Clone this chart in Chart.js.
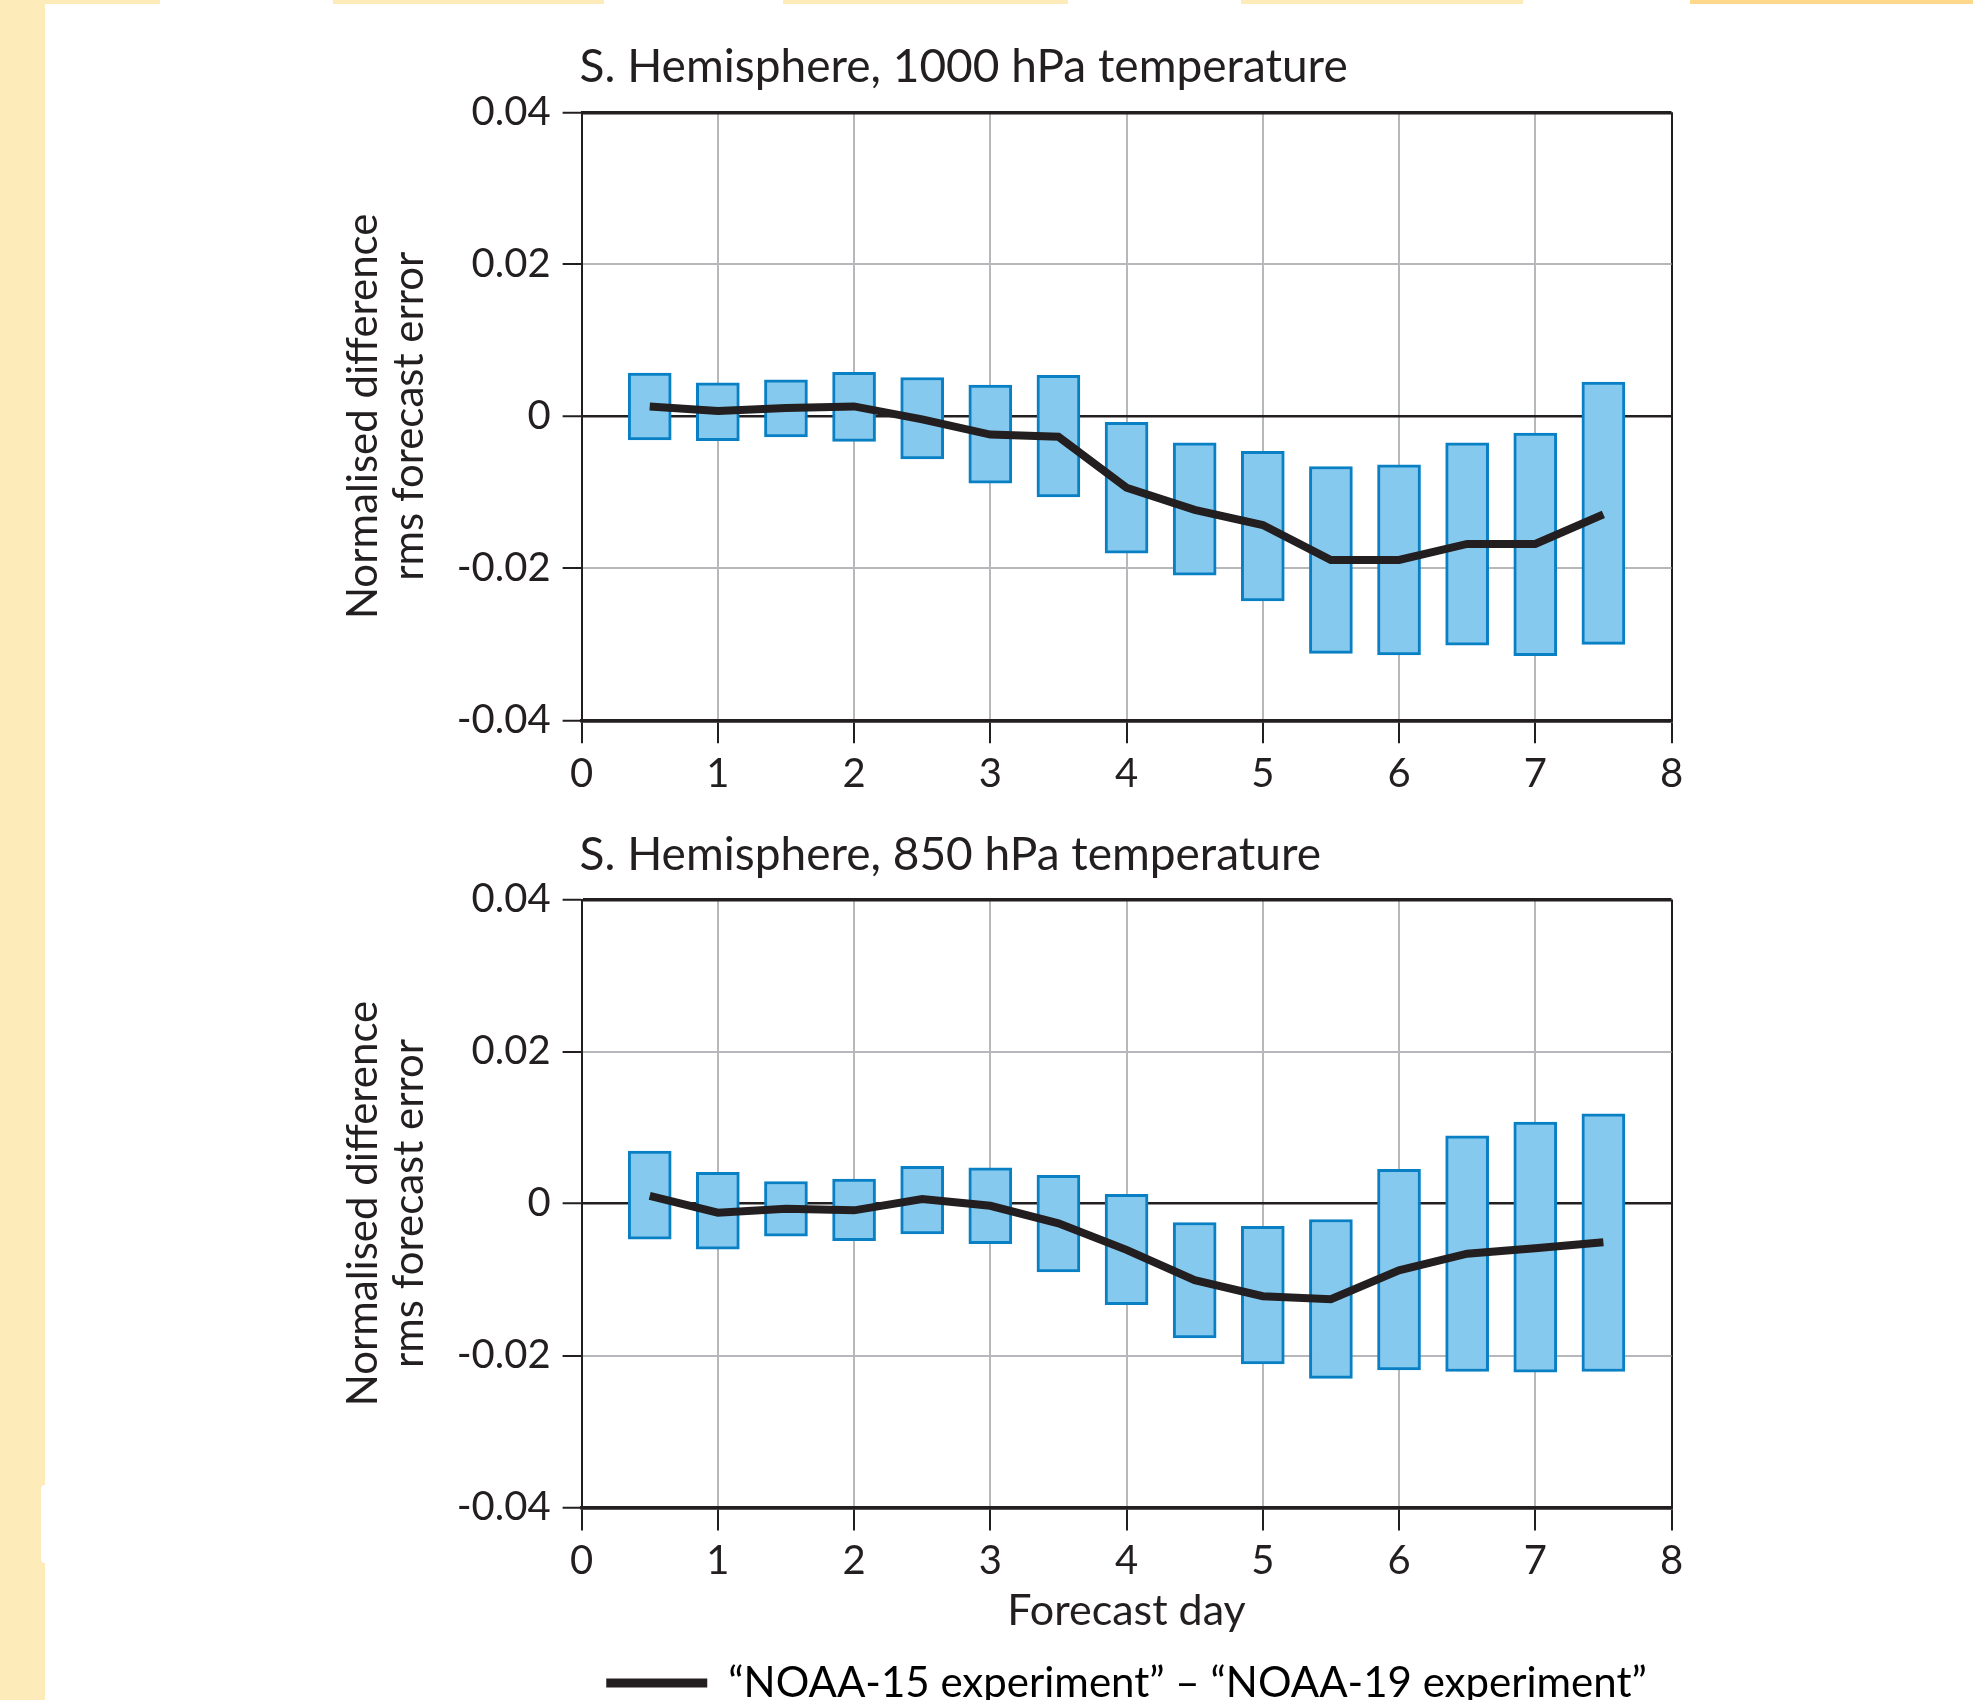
<!DOCTYPE html>
<html>
<head>
<meta charset="utf-8">
<title>S. Hemisphere forecast error difference</title>
<script src="https://cdn.jsdelivr.net/npm/chart.js@4.4.1/dist/chart.umd.min.js"></script>
<style>
html,body{margin:0;padding:0;background:#fff;width:1978px;height:1700px;overflow:hidden;}
.band{position:absolute;background:#fdebb9;}
canvas{position:absolute;left:0;}
</style>
</head>
<body>
<!-- page frame bits around the figure -->
<div class="band" style="left:0;top:0;width:45px;height:1700px"></div>
<div class="band" style="left:0;top:0;width:160px;height:4px"></div>
<div class="band" style="left:333px;top:0;width:271px;height:4px"></div>
<div class="band" style="left:783px;top:0;width:285px;height:4px"></div>
<div class="band" style="left:1241px;top:0;width:282px;height:4px"></div>
<div class="band" style="left:1690px;top:0;width:283px;height:4px;background:#fed98b"></div>
<div style="position:absolute;left:41px;top:1485px;width:6px;height:78px;background:#fff;border-radius:4px 0 0 4px"></div>

<canvas id="chartTop" width="1978" height="800" style="top:0"></canvas>
<canvas id="chartBottom" width="1978" height="930" style="top:800px"></canvas>

<script>
// forecast day of each box / point
const forecastDays = [0.5,1,1.5,2,2.5,3,3.5,4,4.5,5,5.5,6,6.5,7,7.5];

// 1000 hPa: box bottom, box top, mean difference
const t1000Low  = [-0.0031,-0.0032,-0.0027,-0.0033,-0.0056,-0.0088,-0.0106,-0.0180,-0.0209,-0.0243,-0.0312,-0.0314,-0.0301,-0.0315,-0.0300];
const t1000High = [0.0057,0.0044,0.0048,0.0058,0.0051,0.0041,0.0054,-0.0008,-0.0035,-0.0046,-0.0066,-0.0064,-0.0035,-0.0022,0.0045];
const t1000Diff = [0.0013,0.0007,0.0011,0.0013,-0.0004,-0.0024,-0.0027,-0.0094,-0.0123,-0.0143,-0.0189,-0.0189,-0.0168,-0.0168,-0.0129];

// 850 hPa
const t850Low  = [-0.0047,-0.0060,-0.0043,-0.0049,-0.0040,-0.0053,-0.0090,-0.0133,-0.0177,-0.0211,-0.0230,-0.0219,-0.0221,-0.0222,-0.0221];
const t850High = [0.0069,0.0041,0.0029,0.0032,0.0049,0.0047,0.0037,0.0012,-0.0025,-0.0030,-0.0021,0.0045,0.0089,0.0107,0.0118];
const t850Diff = [0.0010,-0.0012,-0.0007,-0.0009,0.0006,-0.0003,-0.0026,-0.0061,-0.0101,-0.0122,-0.0126,-0.0088,-0.0066,-0.0059,-0.0051];

// axes and texts
const xTickValues = [0,1,2,3,4,5,6,7,8];
const yTickValues = [-0.04,-0.02,0,0.02,0.04];
const yTickLabels = ['-0.04','-0.02','0','0.02','0.04'];
const panelTitles = ['S. Hemisphere, 1000 hPa temperature','S. Hemisphere, 850 hPa temperature'];
const yAxisTitle = ['Normalised difference','rms forecast error'];
const xAxisTitle = 'Forecast day';
const seriesLabel = '\u201CNOAA-15 experiment\u201D \u2013 \u201CNOAA-19 experiment\u201D';

const INK = '#231f20';
const GRID = '#b7b8bb';
const FONT = 'Lato, "Open Sans", sans-serif';

// draws the panel heading just above the plot box
const panelTitlePlugin = {
  id: 'panelTitle',
  afterDraw(chart, args, opts){
    const {ctx, chartArea} = chart;
    ctx.save();
    ctx.font = '46px ' + FONT;
    ctx.fillStyle = INK;
    ctx.textAlign = 'left';
    ctx.textBaseline = 'alphabetic';
    ctx.fillText(opts.text, chartArea.left - 2, chartArea.top - 30);
    ctx.restore();
  }
};

function makeChart(canvasId, title, low, high, diff, isLast){
  const ctx = document.getElementById(canvasId).getContext('2d');
  const canvasH = ctx.canvas.height;

  return new Chart(ctx, {
    type: 'bar',
    data: {
      datasets: [
        {
          type: 'bar',
          label: 'range',
          data: forecastDays.map((d,i)=>({x:d, y:[low[i], high[i]]})),
          backgroundColor: '#86c9ee',
          borderColor: '#0a80c4',
          borderWidth: 3,
          borderSkipped: false,
          barThickness: 43,
          order: 2
        },
        {
          type: 'line',
          label: seriesLabel,
          data: forecastDays.map((d,i)=>({x:d, y:diff[i]})),
          borderColor: INK,
          borderWidth: 8,
          pointRadius: 0,
          tension: 0,
          fill: false,
          order: 1
        }
      ]
    },
    options: {
      responsive: false,
      animation: false,
      events: [],
      layout: {padding: {left: 340, right: 306.5, top: isLast ? 99.5 : 112.3, bottom: isLast ? 16 : 0}},
      scales: {
        x: {
          type: 'linear',
          min: 0, max: 8,
          offset: false,
          afterBuildTicks: s => { s.ticks = xTickValues.map(v=>({value:v})); },
          afterFit: s => { s.height = isLast ? 126.5 : (canvasH - 720.3); },
          ticks: {color: INK, font: {family: FONT, size: 40, lineHeight: 1.2}, padding: 7, maxRotation: 0,
                  callback: v => String(v)},
          grid: {
            offset: false,
            color: c => (c.tick && (c.tick.value === 0 || c.tick.value === 8)) ? INK : GRID,
            lineWidth: 2,
            tickColor: INK,
            tickLength: 23,
            tickWidth: 2
          },
          border: {display: true, color: INK, width: 3.5},
          title: {display: isLast, text: xAxisTitle, color: INK, font: {family: FONT, size: 43, lineHeight: 1.07}, padding: 0}
        },
        y: {
          type: 'linear',
          min: -0.04, max: 0.04,
          afterBuildTicks: s => { s.ticks = yTickValues.map(v=>({value:v})); },
          afterFit: s => { s.width = 581.6 - 340; },
          ticks: {color: INK, font: {family: FONT, size: 40}, padding: 12,
                  callback: (v, i) => yTickLabels[i]},
          grid: {
            color: c => {
              const v = c.tick ? c.tick.value : 0;
              return (Math.abs(v) < 1e-9 || Math.abs(Math.abs(v) - 0.04) < 1e-9) ? INK : GRID;
            },
            lineWidth: c => {
              const v = c.tick ? c.tick.value : 0;
              if (Math.abs(Math.abs(v) - 0.04) < 1e-9) return 3.5;
              return Math.abs(v) < 1e-9 ? 2.5 : 2;
            },
            tickColor: INK,
            tickLength: 19,
            tickWidth: 2
          },
          border: {display: true, color: INK, width: 2},
          title: {display: true, text: yAxisTitle, color: INK, font: {family: FONT, size: 42, lineHeight: 1.095}, padding: 0}
        }
      },
      plugins: {
        panelTitle: {text: title},
        tooltip: {enabled: false},
        legend: {
          display: isLast,
          position: 'bottom',
          fullSize: false,
          labels: {
            color: INK,
            font: {family: FONT, size: 42},
            boxWidth: 101,
            boxHeight: 9,
            padding: 28,
            generateLabels: ch => [{
              text: ch.data.datasets[1].label,
              fillStyle: INK,
              strokeStyle: INK,
              lineWidth: 0,
              hidden: false,
              datasetIndex: 1
            }]
          }
        }
      }
    },
    plugins: [panelTitlePlugin]
  });
}

makeChart('chartTop', panelTitles[0], t1000Low, t1000High, t1000Diff, false);
makeChart('chartBottom', panelTitles[1], t850Low, t850High, t850Diff, true);
</script>
</body>
</html>
